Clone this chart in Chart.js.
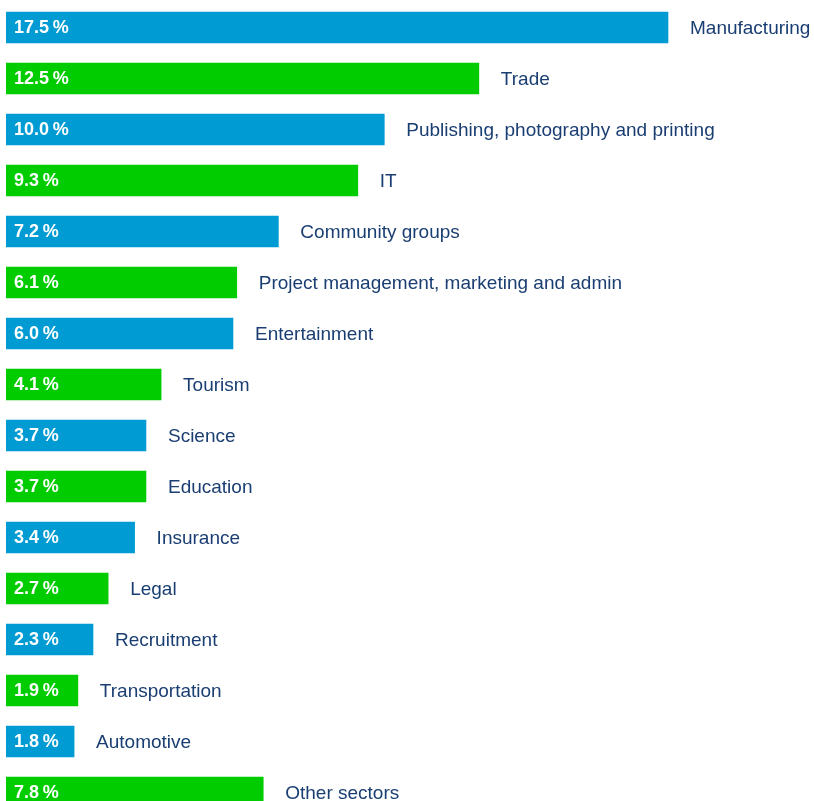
<!DOCTYPE html>
<html>
<head>
<meta charset="utf-8">
<script src="https://cdn.jsdelivr.net/npm/chart.js@4/dist/chart.umd.min.js"></script>
<style>
  html, body { margin: 0; padding: 0; background: #fff; overflow: hidden; }
  #wrap { position: relative; width: 814px; height: 820px; }
</style>
</head>
<body>
<div id="wrap"><canvas id="myChart"></canvas></div>
<script>
var sectors = ['Manufacturing', 'Trade', 'Publishing, photography and printing', 'IT',
  'Community groups', 'Project management, marketing and admin', 'Entertainment', 'Tourism',
  'Science', 'Education', 'Insurance', 'Legal', 'Recruitment', 'Transportation',
  'Automotive', 'Other sectors'];
// printed percentages
var shares = [17.5, 12.5, 10.0, 9.3, 7.2, 6.1, 6.0, 4.1, 3.7, 3.7, 3.4, 2.7, 2.3, 1.9, 1.8, 7.8];
// bar lengths as drawn in the original (the last bar is drawn at 6.8, not 7.8)
var barLengths = [17.5, 12.5, 10.0, 9.3, 7.2, 6.1, 6.0, 4.1, 3.7, 3.7, 3.4, 2.7, 2.3, 1.9, 1.8, 6.8];

var blue = '#009bd2';
var green = '#00cc00';
var barColors = sectors.map(function (s, i) { return i % 2 === 0 ? blue : green; });

// labels inside (value) and after (sector name) each bar
var barLabels = {
  id: 'barLabels',
  afterDatasetsDraw: function (chart) {
    var ctx = chart.ctx;
    var meta = chart.getDatasetMeta(0);
    ctx.save();
    ctx.textBaseline = 'middle';
    meta.data.forEach(function (bar, i) {
      ctx.fillStyle = '#ffffff';
      ctx.font = 'bold 18px "Liberation Sans", Arial, sans-serif';
      ctx.fillText(shares[i].toFixed(1) + '\u2009%', bar.base + 8, bar.y + 1);
      ctx.fillStyle = '#1a3e72';
      ctx.font = '19px "Liberation Sans", Arial, sans-serif';
      ctx.fillText(sectors[i], bar.x + 22, bar.y + 1);
    });
    ctx.restore();
  }
};

window.addEventListener('DOMContentLoaded', function () {
  var ctx = document.getElementById('myChart').getContext('2d');
  var chart = new Chart(ctx, {
    type: 'bar',
    data: {
      labels: sectors,
      datasets: [{
        data: barLengths,
        backgroundColor: barColors,
        borderWidth: 0,
        barThickness: 31
      }]
    },
    options: {
      indexAxis: 'y',
      responsive: true,
      maintainAspectRatio: false,
      animation: false,
      layout: { padding: { left: 6, right: 0, top: 2, bottom: 2 } },
      scales: {
        x: { display: false, min: 0, max: 21.36 },
        y: { display: false }
      },
      plugins: {
        legend: { display: false },
        tooltip: { enabled: false }
      }
    },
    plugins: [barLabels]
  });
});
</script>
</body>
</html>
